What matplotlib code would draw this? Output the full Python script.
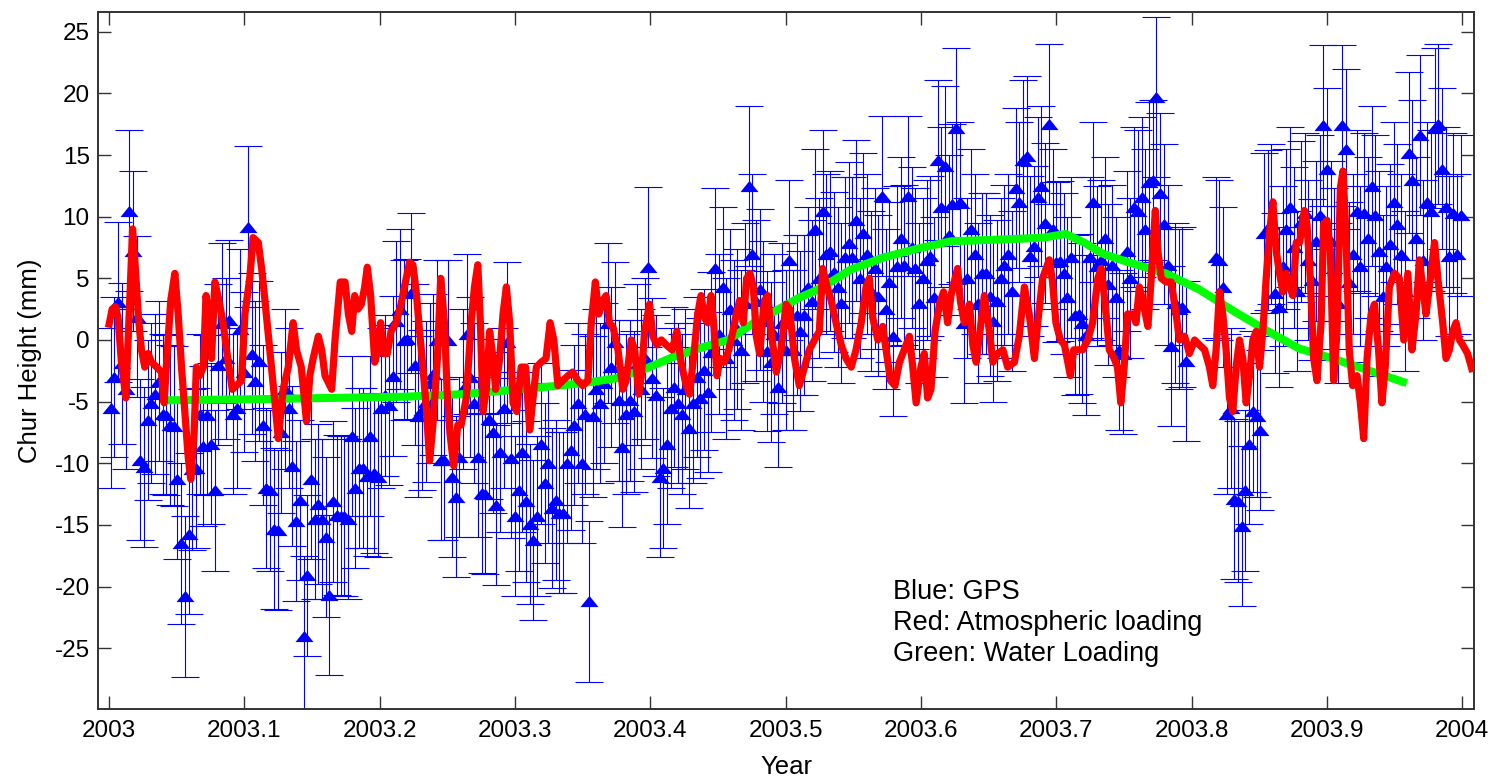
import numpy as np
import matplotlib
matplotlib.use("Agg")
import matplotlib.pyplot as plt
from matplotlib.ticker import FixedLocator, NullLocator

plt.rcParams['font.family'] = ['Liberation Sans', 'DejaVu Sans']
plt.rcParams['axes.unicode_minus'] = False

# ---------------- data ----------------
year0 = 2003
days_per_year = 365.0
nan = float('nan')

# GPS daily height (mm), one value per day starting at day 0 (NaN = no solution)
gps_mm = [
    -5.5, -3.0, 3.1, -1.9, -4.0, 10.5, 7.2, 1.9, -9.7, -10.3,
    -6.5, -5.1, -4.4, -3.3, -6.0, -6.1, -6.9, -7.0, -11.3, -16.5,
    -20.8, -15.7, -10.5, -10.4, -6.0, -8.6, -6.1, -8.4, -12.2, -2.0,
    1.4, -1.5, 1.6, -6.0, -5.5, 0.9, -2.6, 9.2, -1.1, -3.3,
    -1.7, -6.9, -12.0, -12.2, -15.3, -15.4, -7.5, -4.0, -5.5, -10.2,
    -14.7, -13.0, -24.0, -19.1, -11.3, -14.5, -13.3, -14.5, -16.0, -20.7,
    -13.1, -14.2, -14.3, -14.3, -14.5, -7.8, -12.0, -10.4, -10.4, -11.0,
    -7.8, -10.8, -11.1, -5.5, -4.5, -5.3, -2.9, 1.5, 2.5, 0.0,
    0.1, 3.8, -2.0, -6.2, -5.7, -5.0, -3.5, -2.8, 0.0, -9.7,
    -9.7, 0.0, -11.1, -12.7, -9.5, -4.0, 0.5, -3.0, -5.1, -9.5,
    -12.4, -12.5, -6.4, -7.5, -13.4, -9.1, -5.5, -0.2, -9.6, -14.3,
    -12.2, -9.1, -13.1, -14.9, -16.2, -14.3, -8.4, -11.6, -10.0, -13.6,
    -13.0, -14.0, -14.0, -10.0, -8.9, -6.9, -5.1, -10.0, -6.0, -21.2,
    -6.2, -4.0, -5.1, -3.5, 1.4, -2.2, -0.2, -4.9, -8.7, -6.0,
    -4.9, -5.8, -2.0, -4.0, -1.5, 5.9, -3.1, -4.5, -11.1, -10.4,
    -8.4, -5.5, -3.8, -5.1, -6.0, -4.0, -7.1, -5.1, -3.0, -4.7,
    -2.4, -4.2, -1.0, 5.8, 0.5, 4.3, -1.5, 2.5, 0.0, 0.9,
    -0.8, 3.0, 12.5, 7.0, 3.2, 4.1, 1.5, -0.9, -1.8, 0.5,
    -3.8, 1.4, -0.8, 6.5, -0.8, 2.0, 0.7, 2.0, 4.3, 3.2,
    9.0, 5.0, 10.5, 7.0, 7.2, 5.5, 4.3, 3.0, 6.7, 7.9,
    6.7, 9.7, 5.0, 8.7, 7.0, 4.0, 5.8, 3.6, 11.7, 2.5,
    4.7, 0.3, 6.0, 8.3, 6.1, 11.7, 7.5, 5.8, 3.0, 5.0,
    6.5, 6.8, 3.5, 14.6, 10.8, 14.1, 8.5, 11.0, 17.2, 11.2,
    1.4, 5.0, 9.0, 7.0, 3.0, 5.4, 5.4, 3.6, 1.5, 3.2,
    5.0, 6.1, 7.0, 4.0, 12.3, 11.2, 14.6, 14.9, 6.8, 7.6,
    11.6, 12.5, 9.5, 17.5, 9.0, 6.3, 6.4, 5.4, 3.5, 6.7,
    2.0, 2.1, 1.4, 0.4, 6.7, 11.2, 6.0, 6.5, 8.3, 4.5,
    6.1, 3.5, -0.8, -1.1, 7.2, 5.0, 10.8, 10.5, 11.6, 9.0,
    12.8, 13.0, 19.7, 11.9, 9.4, 6.1, -0.5, 3.0, 2.5, 2.7,
    -1.7, nan, nan, nan, nan, nan, nan, nan, 6.7, 6.5,
    4.3, -6.0, -5.5, -12.9, -13.1, -15.1, -12.2, -8.4, -5.8, -6.2,
    -7.3, 8.7, 8.9, 9.4, 3.8, 2.7, 6.0, 9.0, 10.8, 7.5,
    4.0, 9.6, 10.3, 6.5, 4.9, 8.0, 10.1, 17.4, 13.9, 8.0,
    5.8, 3.0, 17.4, 15.5, 4.7, 7.0, 10.5, 6.0, 10.3, 8.3,
    12.5, 10.1, 7.2, 3.6, 6.0, 7.8, 11.2, 9.4, 7.0, 4.0,
    15.2, 13.0, 8.3, 16.6, 6.5, 11.2, 10.5, 17.2, 17.5, 13.9,
    10.8, 6.8, 10.3, 7.0, 10.1,
]
gps_sigma_mm = 6.5

# Atmospheric loading: (day of year, mm)
red_day = [
    -0.1, 0.9, 1.8, 2.5, 3.4, 4.6, 5.0, 5.7, 6.4, 7.0, 8.0, 8.8, 9.7, 10.6, 11.5,
    12.9, 14.2, 14.9, 15.8, 16.7, 17.8, 18.7, 19.6, 20.5, 21.4, 22.1, 23.0, 23.6,
    24.5, 25.5, 26.2, 27.2, 27.7, 28.6, 29.7, 30.8, 32.2, 33.3, 34.4, 35.8, 36.7,
    38.0, 38.9, 40.3, 41.2, 42.1, 43.4, 44.8, 45.7, 47.0, 48.4, 49.7, 50.6, 51.9,
    53.3, 54.2, 55.1, 56.5, 57.4, 58.3, 60.1, 61.0, 62.4, 63.7, 64.6, 65.5, 66.3,
    67.2, 68.1, 69.0, 69.7, 70.6, 71.7, 72.6, 73.3, 73.9, 75.1, 76.1, 77.5, 78.8,
    80.2, 81.1, 82.0, 82.9, 83.8, 84.7, 85.6, 86.5, 87.4, 88.6, 89.5, 90.5, 91.2,
    92.0, 93.0, 94.1, 95.0, 96.4, 97.7, 98.6, 99.5, 100.2, 100.9, 101.8, 102.7,
    103.6, 104.3, 105.4, 106.3, 107.2, 108.1, 109.0, 110.0, 111.2, 112.4, 113.5,
    114.4, 115.3, 116.6, 117.9, 119.0, 120.0, 121.1, 122.4, 123.8, 125.1, 126.5,
    127.8, 129.2, 130.1, 131.2, 132.1, 133.2, 134.1, 135.0, 136.0, 137.3, 138.6,
    139.5, 140.9, 141.8, 142.9, 143.6, 144.5, 145.8, 146.7, 147.8, 149.0, 150.3,
    151.9, 153.2, 154.3, 155.7, 156.6, 157.9, 158.8, 159.7, 160.6, 161.5, 162.4,
    163.1, 164.0, 164.9, 166.0, 167.2, 168.3, 169.2, 170.1, 171.1, 172.0, 172.9,
    173.8, 174.6, 175.5, 176.8, 177.7, 178.6, 180.0, 181.3, 182.6, 183.6, 184.9,
    186.2, 187.6, 188.9, 190.3, 191.6, 192.5, 193.7, 194.8, 196.1, 197.5, 198.8,
    200.2, 201.5, 202.9, 204.2, 205.1, 206.0, 207.4, 208.7, 209.6, 210.8, 212.0,
    213.2, 214.5, 215.9, 216.8, 217.7, 219.0, 219.9, 220.8, 221.7, 222.8, 224.0,
    225.1, 226.2, 227.1, 228.2, 228.9, 229.6, 230.7, 232.1, 233.0, 233.9, 235.2,
    236.1, 237.2, 238.4, 239.7, 241.1, 242.4, 244.2, 245.5, 246.9, 248.2, 249.6,
    250.5, 251.8, 253.6, 254.5, 255.4, 256.6, 257.7, 259.3, 260.2, 261.3, 262.6,
    264.0, 265.3, 266.7, 267.6, 268.6, 269.8, 271.1, 272.0, 272.9, 273.8, 274.7,
    276.1, 277.0, 277.9, 278.8, 280.2, 281.1, 282.2, 282.9, 283.8, 285.1, 286.5,
    287.8, 288.7, 290.1, 291.4, 292.8, 294.1, 295.5, 296.8, 297.7, 298.6, 299.5,
    300.4, 301.3, 302.2, 303.1, 304.0, 304.9, 305.8, 306.7, 307.6, 308.5, 309.4,
    310.3, 311.2, 312.1, 313.0, 313.9, 314.8, 315.7, 316.6, 317.5, 318.4, 319.3,
    320.2, 321.1, 322.4, 323.1, 324.0, 324.9, 325.8, 326.9, 327.6, 328.5, 329.4,
    330.3, 331.2, 332.1, 332.8, 333.6, 334.5, 335.4, 336.6, 337.5, 338.4, 339.3,
    340.4, 341.3, 342.4, 343.3, 344.2, 345.3, 346.7, 348.0, 349.2, 350.3, 351.4,
    352.5, 353.4, 354.3, 355.2, 356.1, 357.5, 358.4, 359.7, 360.6, 361.5, 362.4,
    363.3, 364.2, 365.1, 366.4, 367.8,
]
red_mm = [
    1.0, 2.5, 2.7, 1.8, -1.8, -4.7, -1.5, 3.6, 9.0, 6.5, 1.8, -0.8, -2.2, -1.1, -1.8,
    -2.2, -2.6, -5.1, -0.8, 3.2, 5.4, 2.1, -2.2, -5.8, -9.5, -11.3, -7.6, -2.2,
    -2.9, -2.2, 3.6, 1.8, -1.5, 4.7, 3.2, 1.4, -1.8, -4.0, -3.7, -3.3, 2.1,
    5.0, 8.3, 7.9, 5.8, 3.2, -0.8, -5.1, -8.0, -4.0, -2.2, 1.4, -0.8, -2.2,
    -6.6, -2.9, -1.5, 0.3, -0.8, -2.9, -4.0, 0.0, 4.7, 4.7, 2.1, 0.7, 3.6,
    2.5, 2.9, 4.3, 5.9, 3.6, -1.8, -0.8, 1.4, -1.1, -1.1, 0.7, 1.4, 2.9,
    5.0, 6.3, 6.1, 3.9, 0.7, -2.2, -5.5, -9.8, -6.9, -1.5, 5.0, 1.4, -4.0,
    -7.6, -10.2, -6.9, -6.9, -4.7, 1.4, 4.3, 6.1, 1.4, -5.8, -4.0, 0.7,
    -1.5, -4.0, -1.5, 2.1, 4.3, 1.4, -5.1, -5.8, -2.2, -2.2, -7.3,
    -4.7, -2.2, -1.8, -1.5, 1.4, 0.0, -3.7, -3.3, -2.9, -2.6, -3.3,
    -3.7, -3.3, 1.4, 4.7, 2.1, 3.2, 3.6, 1.4, 1.0, -0.8, -4.0,
    -3.3, 0.0, -0.8, -4.4, -2.9, 0.7, 2.9, 0.3, -0.4, 0.0, -0.4,
    -0.8, 0.7, -1.8, -3.7, -4.4, -0.8, 2.1, 3.6, 1.8, 1.4, 3.6,
    1.4, -2.9, -1.5, -1.8, -0.8, 0.7, 2.1, 3.2, 1.4, 5.0, 5.4,
    4.3, 0.3, -1.1, 3.2, 3.6, 0.7, -2.6, -0.8, 2.9, 2.5, -1.5,
    -3.7, -2.2, -0.8, 0.0, 0.7, 5.8, 4.3, 3.2, 1.4, -0.4, -1.5,
    -2.2, -0.8, 1.4, 4.3, 5.0, 1.8, 0.0, 1.1, -0.8, -3.3, -3.7,
    -1.8, -0.8, 0.3, -2.2, -5.1, -2.2, -1.1, -4.7, -4.0, 0.7, 2.9,
    3.9, 1.4, 3.6, 5.0, 5.8, 3.2, 1.4, 2.9, -0.4, -1.8, 1.4,
    3.6, 1.4, -1.8, -1.1, -0.8, -2.2, -1.8, 0.3, 4.3, 2.1, -1.5,
    1.4, 5.0, 6.5, 4.7, 1.4, 0.0, -0.4, -2.9, -0.8, -0.8, -0.8,
    0.0, 1.4, 5.0, 5.8, 3.2, -0.8, -1.5, -2.2, -5.1, -2.2, 2.1,
    2.1, 1.4, 4.3, 3.2, 1.1, 5.0, 10.5, 7.2, 5.0, 4.7, 4.7,
    2.1, 0.0, 0.3, -1.1, 0.0, -0.4, -0.8, -2.2, -3.7, -0.8, 3.9,
    2.1, -0.8, -4.7, -5.8, -2.2, 0.0, -1.5, -5.1, -2.9, 0.0, 0.7,
    -2.2, 0.7, 5.0, 8.7, 11.2, 7.2, 5.4, 3.9, 5.4, 4.3, 3.6,
    7.9, 7.9, 10.5, 9.4, 5.0, -1.5, -3.3, 1.4, 9.4, 9.7, 7.2,
    -3.3, 0.7, 12.3, 13.7, 8.7, -0.8, -3.7, -2.9, -5.1, -8.0, -1.5,
    2.1, 2.9, -0.8, -5.1, -2.2, 4.3, 5.4, 5.0, 0.0, 5.4, -0.8,
    2.1, 6.5, 4.3, 2.1, 4.3, 7.9, 5.0, 1.4, -1.5, -0.8, 0.7,
    1.4, 0.0, -0.4, -1.1, -2.6,
]

# Water loading: (day of year, mm)
green_day = [14.5, 40, 60, 80, 95, 107, 118, 128, 137, 145, 152, 160, 167, 174,
             180, 186, 192, 200, 209, 218, 227, 236, 245, 252, 258, 263, 268,
             275, 285, 294, 303, 312, 321, 330, 339, 350]
green_mm = [-4.9, -4.8, -4.7, -4.6, -4.4, -4.1, -3.8, -3.5, -3.1, -2.3, -1.4,
            -0.6, 0.0, 1.4, 2.4, 3.4, 4.2, 5.7, 6.7, 7.4, 8.0, 8.1, 8.2, 8.3,
            8.6, 7.9, 7.0, 6.3, 5.4, 4.1, 2.4, 0.8, -0.7, -1.5, -2.4, -3.5]

xtick_vals = [2003.0, 2003.1, 2003.2, 2003.3, 2003.4, 2003.5, 2003.6, 2003.7,
              2003.8, 2003.9, 2004.0]
xtick_labels = ['2003', '2003.1', '2003.2', '2003.3', '2003.4', '2003.5',
                '2003.6', '2003.7', '2003.8', '2003.9', '2004']
ytick_vals = [-25, -20, -15, -10, -5, 0, 5, 10, 15, 20, 25]
ytick_labels = ['-25', '-20', '-15', '-10', '-5', '0', '5', '10', '15', '20', '25']
note_lines = ['Blue: GPS', 'Red: Atmospheric loading', 'Green: Water Loading']
xlabel_text = 'Year'
ylabel_text = 'Chur Height (mm)'

# ---------------- derived coordinates ----------------
gps_t = year0 + (np.arange(len(gps_mm)) + 0.5) / days_per_year
gps_v = np.array(gps_mm, dtype=float)
red_t = year0 + np.array(red_day) / days_per_year
green_t = year0 + np.array(green_day) / days_per_year

# ---------------- figure ----------------
fig = plt.figure(figsize=(14.95, 7.79), dpi=100)
ax = fig.add_axes([98 / 1495, 1 - 709 / 779, (1474 - 98) / 1495, (709 - 12) / 779])

tri = [(-1.0, -0.62), (1.0, -0.62), (0.0, 0.62)]
ax.errorbar(gps_t, gps_v, yerr=gps_sigma_mm, fmt='none', ecolor='#0000ff',
            elinewidth=0.8, capsize=10, capthick=0.8, zorder=2)
ax.plot(gps_t, gps_v, linestyle='none', marker=tri, markersize=13,
        color='#0000ff', markeredgewidth=0, zorder=3)
ax.plot(green_t, green_mm, color='#00ff00', linewidth=5.8,
        solid_joinstyle='round', solid_capstyle='butt', zorder=4)
ax.plot(red_t, red_mm, color='#ff0000', linewidth=5.2,
        solid_joinstyle='round', solid_capstyle='butt', zorder=5)

ax.set_xlim(2002.992, 2004.0086)
ax.set_ylim(-29.93, 26.6)

ax.xaxis.set_major_locator(FixedLocator(xtick_vals))
ax.set_xticklabels(xtick_labels)
ax.yaxis.set_major_locator(FixedLocator(ytick_vals))
ax.set_yticklabels(ytick_labels)
ax.xaxis.set_minor_locator(NullLocator())
ax.yaxis.set_minor_locator(NullLocator())

ax.tick_params(axis='both', which='major', direction='in', length=9.5,
               width=1.0, color='#333333', labelsize=17.5, top=True, right=True)
ax.tick_params(axis='x', pad=8)
ax.tick_params(axis='y', pad=6)
for sp in ax.spines.values():
    sp.set_color('#333333')
    sp.set_linewidth(1.4)

ax.set_xlabel(xlabel_text, fontsize=18.5)
ax.set_ylabel(ylabel_text, fontsize=18.5)
ax.xaxis.set_label_coords(0.5, -0.066)
ax.yaxis.set_label_coords(-0.041, 0.5)

note_x = 2003.579
note_y = [-21.0, -23.52, -26.0]
for txt, yv in zip(note_lines, note_y):
    ax.text(note_x, yv, txt, fontsize=19.5, ha='left', va='baseline', zorder=6)

fig.savefig('out.png', dpi=100)
